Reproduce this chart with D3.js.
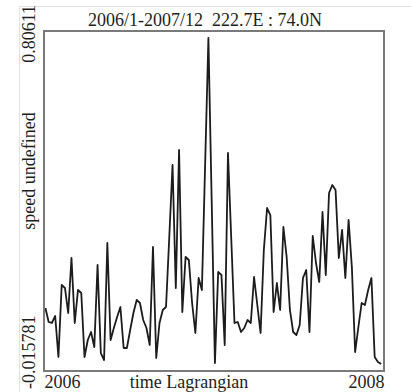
<!DOCTYPE html>
<html>
<head>
<meta charset="utf-8">
<script src="https://cdn.jsdelivr.net/npm/d3@7"></script>
<style>
  body { margin: 0; background: #fff; }
  text { font-family: "Liberation Serif", "DejaVu Serif", serif; fill: #1e1e1e; }
</style>
</head>
<body>
<div id="chart-area"></div>
<script>
// weekly series, 2006/1 - 2007/12
var speed = [
  0.1365, 0.1027, 0.1003, 0.1172, 0.0181, 0.1921, 0.1849, 0.1244, 0.2574, 0.1003,
  0.1800, 0.1728, 0.0181, 0.0592, 0.0785, 0.0422, 0.2405, 0.0277, 0.0108, 0.2936,
  0.0592, 0.0882, 0.1148, 0.1389, 0.0398, 0.0398, 0.0833, 0.1244, 0.1559, 0.1486,
  0.1075, 0.0882, 0.0471, 0.2840, 0.0156, 0.1003, 0.1317, 0.1389, 0.3081, 0.4822,
  0.1849, 0.5184, 0.1268, 0.2598, 0.2525, 0.1486, 0.0761, 0.2090, 0.1800, 0.4846,
  0.7892, 0.3976, 0.0036, 0.2235, 0.2163, 0.0471, 0.5112, 0.3057, 0.1003, 0.1027,
  0.0785, 0.0882, 0.1075, 0.1003, 0.2114, 0.1438, 0.0761, 0.2767, 0.3782, 0.3613,
  0.1268, 0.1969, 0.1317, 0.3323, 0.2598, 0.1317, 0.0785, 0.0712, 0.0954, 0.2090,
  0.2284, 0.0785, 0.3106, 0.2453, 0.1994, 0.3686, 0.2163, 0.4145, 0.4338, 0.4218,
  0.2574, 0.3251, 0.2090, 0.3492, 0.2356, 0.0301, 0.0906, 0.1486, 0.1438, 0.1800,
  0.2090, 0.0181, 0.0060, 0.0011
];
var firstWeek = new Date(2006, 0, 4);
var xTicks = [new Date(2006, 0, 1), new Date(2008, 0, 1)];
var yTickLabels = ['0.80611', '-0.015781'];
var yRange = [-0.015781, 0.80611];
var title = '2006/1-2007/12  222.7E : 74.0N';
var xTitle = 'time Lagrangian';
var yTitle = 'speed undefined';

var def = {
    width: 411,
    height: 392,
    margin: { top: 31, right: 27, bottom: 21, left: 44 }
};
var pw = def.width - def.margin.left - def.margin.right;
var ph = def.height - def.margin.top - def.margin.bottom;

var data = speed.map(function(v, i) {
    return { date: d3.timeDay.offset(firstWeek, 7 * i), v: v };
});

var svg = d3.select('#chart-area').append('svg')
    .attr('width', def.width)
    .attr('height', def.height);

// faint outer border
svg.append('rect')
    .attr('x', 19.5).attr('y', 6.5)
    .attr('width', 400).attr('height', 400)
    .attr('fill', 'none')
    .attr('stroke', '#e2e2e2');

var g = svg.append('g')
    .attr('transform', 'translate(' + def.margin.left + ',' + def.margin.top + ')');

var x = d3.scaleTime().domain(xTicks).range([0, pw]);
var y = d3.scaleLinear().domain(yRange).range([ph, 0]);

g.append('path')
    .datum(data)
    .attr('fill', 'none')
    .attr('stroke', '#1c1c1c')
    .attr('stroke-width', 1.8)
    .attr('stroke-linejoin', 'round')
    .attr('d', d3.line()
        .x(function(d) { return x(d.date); })
        .y(function(d) { return y(d.v); }));

// frame
g.append('rect')
    .attr('width', pw).attr('height', ph)
    .attr('fill', 'none')
    .attr('stroke', '#7a7a7a')
    .attr('stroke-width', 2);

// x axis: only the two year labels
var xAxis = d3.axisBottom(x)
    .tickValues(xTicks)
    .tickSize(0)
    .tickPadding(0)
    .tickFormat(d3.timeFormat('%Y'));
var xLeg = g.append('g')
    .attr('transform', 'translate(0,' + ph + ')')
    .call(xAxis);
xLeg.select('.domain').remove();
xLeg.selectAll('text')
    .attr('font-size', '18px')
    .attr('font-family', '"Liberation Serif", serif')
    .attr('fill', '#1e1e1e')
    .attr('dy', null)
    .attr('y', 16.5)
    .attr('text-anchor', function(d, i) { return i === 0 ? 'start' : 'end'; });

g.append('text')
    .attr('x', 145)
    .attr('y', ph + 16.5)
    .attr('font-size', '18px')
    .attr('text-anchor', 'middle')
    .text(xTitle);

// y labels, rotated
svg.append('text')
    .attr('transform', 'translate(35,5) rotate(-90)')
    .attr('font-size', '18px')
    .attr('text-anchor', 'end')
    .text(yTickLabels[0]);
svg.append('text')
    .attr('transform', 'translate(35,389) rotate(-90)')
    .attr('font-size', '18px')
    .attr('text-anchor', 'start')
    .text(yTickLabels[1]);
svg.append('text')
    .attr('transform', 'translate(35,171) rotate(-90)')
    .attr('font-size', '18px')
    .attr('text-anchor', 'middle')
    .text(yTitle);

svg.append('text')
    .attr('x', 205)
    .attr('y', 26)
    .attr('font-size', '18px')
    .attr('text-anchor', 'middle')
    .style('white-space', 'pre')
    .text(title);
</script>
</body>
</html>
